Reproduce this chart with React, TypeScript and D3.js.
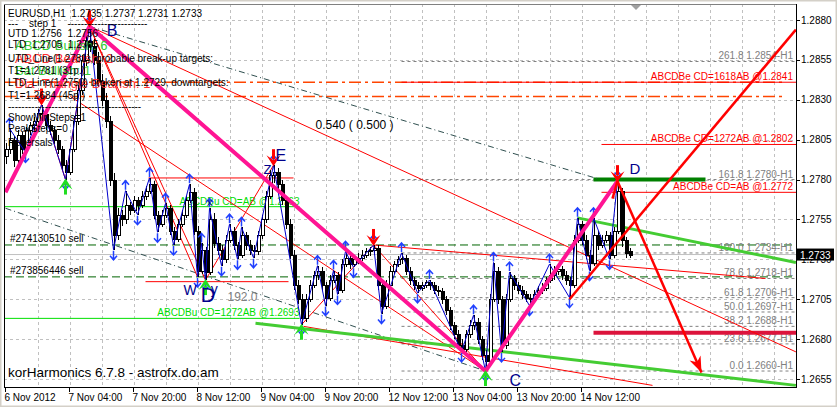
import * as d3 from "d3";

// H1 bars, [open, high, low, close]
const bars: [number, number, number, number][] = [
  [1.2795, 1.2803, 1.279, 1.2799], [1.2799, 1.2812, 1.2796, 1.2805], [1.2805, 1.2807, 1.2788, 1.2792], [1.2792, 1.2811, 1.279, 1.2808],
  [1.2808, 1.281, 1.2796, 1.2799], [1.2799, 1.2813, 1.2797, 1.2811], [1.2811, 1.2816, 1.2808, 1.2814], [1.2814, 1.2819, 1.281, 1.2817],
  [1.2817, 1.2824, 1.2815, 1.2822], [1.2822, 1.2827, 1.2818, 1.2821], [1.2821, 1.2823, 1.2811, 1.2814], [1.2814, 1.2817, 1.2808, 1.2811],
  [1.2811, 1.2813, 1.2802, 1.2805], [1.2805, 1.2808, 1.2796, 1.2799], [1.2799, 1.2801, 1.2786, 1.2789], [1.2789, 1.2792, 1.278, 1.2785],
  [1.2785, 1.2801, 1.2783, 1.2799], [1.2799, 1.282, 1.2797, 1.2817], [1.2817, 1.2839, 1.2814, 1.2836], [1.2836, 1.2858, 1.2833, 1.2855],
  [1.2855, 1.287, 1.2851, 1.2867], [1.2867, 1.2876, 1.286, 1.2864], [1.2864, 1.2868, 1.2852, 1.2855], [1.2855, 1.286, 1.2838, 1.2842],
  [1.2842, 1.2846, 1.2826, 1.283], [1.283, 1.2834, 1.2812, 1.2817], [1.2817, 1.282, 1.2776, 1.278], [1.278, 1.2784, 1.2736, 1.2745],
  [1.2745, 1.2762, 1.2742, 1.2758], [1.2758, 1.2761, 1.2751, 1.2755], [1.2755, 1.2773, 1.2752, 1.2764], [1.2764, 1.2766, 1.2758, 1.2761],
  [1.2761, 1.277, 1.2759, 1.2767], [1.2767, 1.2769, 1.2758, 1.2764], [1.2764, 1.2773, 1.2762, 1.277], [1.277, 1.2776, 1.2767, 1.2773],
  [1.2773, 1.2781, 1.2771, 1.2777], [1.2777, 1.2779, 1.2755, 1.2758], [1.2758, 1.276, 1.2747, 1.2752], [1.2752, 1.2761, 1.275, 1.2758],
  [1.2758, 1.2765, 1.2756, 1.2762], [1.2762, 1.2764, 1.2745, 1.2748], [1.2748, 1.275, 1.2739, 1.2743], [1.2743, 1.2755, 1.2741, 1.2752],
  [1.2752, 1.2761, 1.275, 1.2758], [1.2758, 1.277, 1.2756, 1.2767], [1.2767, 1.2777, 1.2765, 1.2772], [1.2772, 1.2775, 1.2745, 1.2748],
  [1.2748, 1.2751, 1.2719, 1.2723], [1.2723, 1.274, 1.2721, 1.2736], [1.2736, 1.2738, 1.2717, 1.2722], [1.2722, 1.2762, 1.272, 1.2755],
  [1.2755, 1.2759, 1.2737, 1.274], [1.274, 1.2744, 1.2733, 1.2736], [1.2736, 1.2739, 1.2726, 1.273], [1.273, 1.2745, 1.2728, 1.2742],
  [1.2742, 1.2752, 1.274, 1.2748], [1.2748, 1.275, 1.2736, 1.2739], [1.2739, 1.2741, 1.273, 1.2733], [1.2733, 1.275, 1.2731, 1.2745],
  [1.2745, 1.2747, 1.2736, 1.2739], [1.2739, 1.2742, 1.2733, 1.2736], [1.2736, 1.2739, 1.2731, 1.2735], [1.2735, 1.2748, 1.2733, 1.2745],
  [1.2745, 1.2758, 1.2743, 1.2755], [1.2755, 1.2773, 1.2753, 1.277], [1.277, 1.2786, 1.2768, 1.2783], [1.2783, 1.2789, 1.2778, 1.2785],
  [1.2785, 1.2787, 1.2774, 1.2777], [1.2777, 1.278, 1.2764, 1.2767], [1.2767, 1.277, 1.2749, 1.2752], [1.2752, 1.2755, 1.273, 1.2733],
  [1.2733, 1.2736, 1.2711, 1.2714], [1.2714, 1.2717, 1.2702, 1.2705], [1.2705, 1.2708, 1.2689, 1.2693], [1.2693, 1.2708, 1.2691, 1.2705],
  [1.2705, 1.2717, 1.2703, 1.2714], [1.2714, 1.2723, 1.2712, 1.272], [1.272, 1.2726, 1.2717, 1.2723], [1.2723, 1.2725, 1.2711, 1.2714],
  [1.2714, 1.2716, 1.2701, 1.2706], [1.2706, 1.272, 1.2704, 1.2717], [1.2717, 1.2723, 1.2715, 1.272], [1.272, 1.2722, 1.2708, 1.2711],
  [1.2711, 1.273, 1.2709, 1.2727], [1.2727, 1.2735, 1.2725, 1.2731], [1.2731, 1.2733, 1.2724, 1.2727], [1.2727, 1.2733, 1.2725, 1.273],
  [1.273, 1.2734, 1.2727, 1.2731], [1.2731, 1.2736, 1.2729, 1.2733], [1.2733, 1.2737, 1.2731, 1.2735], [1.2735, 1.2738, 1.2732, 1.2736],
  [1.2736, 1.2739, 1.2733, 1.2737], [1.2737, 1.2739, 1.2711, 1.2714], [1.2714, 1.2716, 1.2696, 1.2701], [1.2701, 1.2717, 1.2699, 1.2714],
  [1.2714, 1.2726, 1.2712, 1.2723], [1.2723, 1.2729, 1.2721, 1.2727], [1.2727, 1.2732, 1.2725, 1.273], [1.273, 1.2734, 1.2727, 1.2731],
  [1.2731, 1.2733, 1.272, 1.2723], [1.2723, 1.2725, 1.2714, 1.2717], [1.2717, 1.2719, 1.2711, 1.2714], [1.2714, 1.2716, 1.2709, 1.2712],
  [1.2712, 1.2716, 1.271, 1.2714], [1.2714, 1.2717, 1.2712, 1.2716], [1.2716, 1.2717, 1.2711, 1.2714], [1.2714, 1.2716, 1.2708, 1.2711],
  [1.2711, 1.2713, 1.2707, 1.271], [1.271, 1.2712, 1.2702, 1.2705], [1.2705, 1.2707, 1.2695, 1.2698], [1.2698, 1.27, 1.2686, 1.2689],
  [1.2689, 1.2691, 1.268, 1.2683], [1.2683, 1.2686, 1.2674, 1.2676], [1.2676, 1.268, 1.2672, 1.2674], [1.2674, 1.2686, 1.2672, 1.2683],
  [1.2683, 1.2692, 1.2681, 1.2689], [1.2689, 1.2695, 1.2686, 1.2691], [1.2691, 1.2693, 1.2677, 1.268], [1.268, 1.2682, 1.2667, 1.267],
  [1.267, 1.2673, 1.266, 1.2666], [1.2666, 1.2708, 1.2664, 1.2705], [1.2705, 1.2728, 1.2703, 1.2723], [1.2723, 1.2725, 1.2702, 1.2705],
  [1.2705, 1.2707, 1.2672, 1.2676], [1.2676, 1.2708, 1.2674, 1.2705], [1.2705, 1.2722, 1.2703, 1.2718], [1.2718, 1.272, 1.2711, 1.2714],
  [1.2714, 1.2716, 1.2708, 1.2711], [1.2711, 1.2713, 1.2705, 1.2708], [1.2708, 1.271, 1.2703, 1.2706], [1.2706, 1.2708, 1.2701, 1.2705],
  [1.2705, 1.2711, 1.2703, 1.2708], [1.2708, 1.2713, 1.2706, 1.2711], [1.2711, 1.2715, 1.2708, 1.2712], [1.2712, 1.2719, 1.271, 1.2717],
  [1.2717, 1.2727, 1.2715, 1.272], [1.272, 1.2726, 1.2717, 1.2723], [1.2723, 1.2726, 1.272, 1.2724], [1.2724, 1.2726, 1.2717, 1.272],
  [1.272, 1.2723, 1.2714, 1.2717], [1.2717, 1.2719, 1.2706, 1.2714], [1.2714, 1.2745, 1.2712, 1.2742], [1.2742, 1.2756, 1.274, 1.2752],
  [1.2752, 1.2754, 1.2739, 1.2742], [1.2742, 1.2745, 1.273, 1.2733], [1.2733, 1.2736, 1.2723, 1.2728], [1.2728, 1.2756, 1.2726, 1.2745],
  [1.2745, 1.2748, 1.2736, 1.2739], [1.2739, 1.2745, 1.2737, 1.2742], [1.2742, 1.2748, 1.274, 1.2745], [1.2745, 1.2747, 1.273, 1.2733],
  [1.2733, 1.275, 1.2731, 1.2748], [1.2748, 1.2779, 1.2746, 1.2773], [1.2773, 1.2775, 1.2738, 1.2742], [1.2742, 1.2744, 1.2731, 1.2734],
  [1.2735, 1.2737, 1.2731, 1.2733],
];

const timeTickBars = [0, 16, 32, 48, 64, 80, 96, 112, 128, 144];
const timeTickLabels = ["6 Nov 2012", "7 Nov 04:00", "7 Nov 20:00", "8 Nov 12:00", "9 Nov 04:00", "9 Nov 20:00", "12 Nov 12:00", "13 Nov 04:00", "13 Nov 20:00", "14 Nov 12:00"];
const priceTicks = [1.288, 1.2855, 1.283, 1.2805, 1.278, 1.2755, 1.273, 1.2705, 1.268, 1.2655];
const lastPrice = 1.2733;

// zigzag pivots [bar, price]
const zigzag = [
  [1, 1.2812], [5, 1.2797], [9, 1.2827], [15, 1.278], [21, 1.2876], [27, 1.2736], [30, 1.2773], [33, 1.2758], [36, 1.2781],
  [38, 1.2747], [40, 1.2765], [42, 1.2739], [46, 1.2777], [48, 1.2719], [49, 1.274], [50, 1.2717], [51, 1.2762], [54, 1.2726],
  [56, 1.2752], [58, 1.273], [59, 1.275], [62, 1.2731], [67, 1.2789], [74, 1.2689], [78, 1.2726], [80, 1.2701], [82, 1.2723],
  [83, 1.2708], [85, 1.2735], [87, 1.2725], [92, 1.2739], [94, 1.2696], [99, 1.2734], [103, 1.2709], [106, 1.2717], [114, 1.2672],
  [117, 1.2695], [120, 1.266], [122, 1.2728], [124, 1.2672], [126, 1.2722], [131, 1.2701], [136, 1.2727], [141, 1.2706],
  [143, 1.2756], [146, 1.2723], [147, 1.2756], [151, 1.273], [153, 1.2779],
];

// harmonic pattern legs
const pinkLegs = [[0, 1.2772], [21, 1.2876], [120, 1.266], [153, 1.2779]];
const redThin = [
  [[21, 1.2876], [197.6, 1.2672]],
  [[21, 1.2876], [50, 1.2717]],
  [[21, 1.2876], [48, 1.2719]],
  [[16.25, 1.2832], [120, 1.266]],
  [[74.5, 1.2688], [161.75, 1.2651]],
  [[92, 1.2739], [190, 1.2718]],
  [[74, 1.2689], [92, 1.2739]],
  [[92, 1.2739], [120, 1.266]],
  [[50, 1.2717], [67, 1.2789]],
  [[9, 1.2827], [15, 1.278], [21, 1.2876]],
  [[35.75, 1.2781], [72, 1.2781]],
  [[35, 1.2716], [70.75, 1.2716]],
];
const redThick = [
  [[141, 1.2705], [197.6, 1.2874]],
  [[151.75, 1.2768], [153, 1.2779]],
];
const targetArrow = [[153, 1.2779], [174, 1.2659]];
const darkDashed = [
  [[21, 1.2876], [148.75, 1.278]],
  [[0, 1.2762], [120, 1.266]],
];
const greenChannel = [
  [[62.5, 1.269], [197.6, 1.2651]],
  [[143, 1.2756], [197.6, 1.2728]],
];

const fibPct = ["261.8", "161.8", "100.0", "78.6", "61.8", "50.0", "38.2", "23.6", "0.0"];
const fibPrice = [1.2854, 1.278, 1.2734, 1.2718, 1.2706, 1.2697, 1.2688, 1.2677, 1.266];

const bearTargets = [
  { label: "ABCDBe CD=1618AB  @1.2841", price: 1.2841, from: 99 },
  { label: "ABCDBe CD=1272AB  @1.2802", price: 1.2802, from: 149 },
  { label: "ABCDBe CD=AB  @1.2772", price: 1.2772, from: 149 },
];
const bullTargets = [
  { label: "ABCDBu CD=AB  @1.2763", price: 1.2763 },
  { label: "ABCDBu CD=1272AB  @1.2693", price: 1.2693 },
];
const orders = [
  { label: "#274130510 sell", price: 1.2739 },
  { label: "#273856446 sell", price: 1.2719 },
];
const breakLevels = [1.2841, 1.2832];
const t1Level = 1.2684;
const dLevel = 1.278;

const redMarks = [[9, 1.2827], [21, 1.2876], [67, 1.2789], [92, 1.2739], [153, 1.2779]];
const greenMarks = [[15, 1.278], [50, 1.2717], [74, 1.2689], [120, 1.266]];

const infoLines = [
  "EURUSD,H1  1.2735 1.2737 1.2731 1.2733",
  "---    step 1    ------------------------",
  "UTD 1.2756  1.2756",
  "LTD  1.2705  1.2705",
  "UTD_Line(1.2781), probable break-up targets:",
  "T1=1.2781 (31p.)",
  "LTD_Line(1.2750) broken at 1.2729, downtargets:",
  "T1=1.2684 (45p.)",
  "----------------------------------------",
  "ShowMinSteps=1",
  "PeakSteps=0",
  "Reversals",
];
const infoBaselines = [17, 27, 37, 48, 62, 74, 86, 99, 110, 121, 132, 146];
const patternCounts = [
  { text: "ABCD Bullish: 6", color: "#33cc33" },
  { text: "ABCD Bearish: 2", color: "#ff3030" },
  { text: "Bat Bullish: 1", color: "#33cc33" },
  { text: "Dia_Triangle Bearish: 1", color: "#ff3030" },
];

const FONT = "'Liberation Sans', Arial, sans-serif";

export default function App() {
  const W = 837, H = 407;
  const left = 4, right = 796, top = 4, bottom = 387;
  const x = d3.scaleLinear().domain([0, 1]).range([5.5, 9.5]);
  const y = d3.scaleLinear().domain([1.2655, 1.288]).range([379, 20]);
  const xEnd = x.invert(right);
  const line = d3.line<number[]>().x((d) => x(d[0])).y((d) => y(d[1]));
  const gridX = d3.range(8, xEnd, 8);

  const [ax, ay] = [x(targetArrow[1][0]), y(targetArrow[1][1])];
  const ang = Math.atan2(ay - y(targetArrow[0][1]), ax - x(targetArrow[0][0]));
  const head = (len: number, wid: number) =>
    `M${ax},${ay} L${ax - len * Math.cos(ang) + wid * Math.sin(ang)},${ay - len * Math.sin(ang) - wid * Math.cos(ang)} L${ax - len * 0.7 * Math.cos(ang)},${ay - len * 0.7 * Math.sin(ang)} L${ax - len * Math.cos(ang) - wid * Math.sin(ang)},${ay - len * Math.sin(ang) + wid * Math.cos(ang)} Z`;

  return (
    <div style={{ position: "fixed", left: 0, top: 0 }}>
      <svg width={W} height={H} style={{ display: "block", fontFamily: FONT }}>
        <defs>
          <clipPath id="plot">
            <rect x={left} y={top} width={right - left} height={bottom - top} />
          </clipPath>
        </defs>
        <rect x={0} y={0} width={W} height={H} fill="#ffffff" />
        <rect x={0.5} y={0.5} width={W - 1} height={H - 1} fill="none" stroke="#d4d0c8" strokeWidth={2} />

        {/* grid */}
        <g stroke="#c0c0c0" strokeDasharray="3,3" shapeRendering="crispEdges">
          {gridX.map((b) => (
            <line key={b} x1={Math.round(x(b)) + 0.5} x2={Math.round(x(b)) + 0.5} y1={top} y2={bottom} />
          ))}
          {priceTicks.map((p) => (
            <line key={p} x1={left} x2={right} y1={Math.round(y(p)) + 0.5} y2={Math.round(y(p)) + 0.5} />
          ))}
        </g>

        <g clipPath="url(#plot)">
          {/* horizontal levels */}
          <line x1={left} x2={right} y1={y(lastPrice)} y2={y(lastPrice)} stroke="#c0c0c0" />
          {orders.map((o) => (
            <g key={o.label}>
              <line x1={left} x2={right} y1={y(o.price)} y2={y(o.price)} stroke="#006400" strokeDasharray="8,4" />
              <text x={10} y={y(o.price) - 3} fontSize={10} fill="#000">{o.label}</text>
            </g>
          ))}
          {fibPrice.map((p, i) => (
            <g key={p}>
              <line x1={x(99)} x2={right} y1={y(p)} y2={y(p)} stroke="#808080" strokeDasharray="3,3" />
              <text x={793} y={y(p) - 2} fontSize={10} fill="#808080" textAnchor="end">{`${fibPct[i]} ${p.toFixed(4)}-H1`}</text>
            </g>
          ))}
          {breakLevels.map((p) => (
            <line key={p} x1={left} x2={x(194.5)} y1={y(p)} y2={y(p)} stroke="#ff4500" strokeWidth={1.5} strokeDasharray="12,4,3,4" />
          ))}
          {bearTargets.map((t) => (
            <g key={t.label}>
              <line x1={x(t.from)} x2={right} y1={y(t.price)} y2={y(t.price)} stroke="#ff0000" />
              <text x={793} y={y(t.price) - 2} fontSize={10} fill="#ff0000" textAnchor="end">{t.label}</text>
            </g>
          ))}
          {bullTargets.map((t) => (
            <g key={t.label}>
              <line x1={left} x2={x(73.5)} y1={y(t.price)} y2={y(t.price)} stroke="#00e000" />
              <text x={x(73.5)} y={y(t.price) - 2} fontSize={10} fill="#00dd00" textAnchor="end">{t.label}</text>
            </g>
          ))}
          <line x1={x(147)} x2={right} y1={y(t1Level)} y2={y(t1Level)} stroke="#dc143c" strokeWidth={4} />
          <line x1={x(147)} x2={x(175)} y1={y(dLevel)} y2={y(dLevel)} stroke="#008000" strokeWidth={4} />

          {/* trend lines */}
          {darkDashed.map((s, i) => (
            <path key={i} d={line(s) ?? ""} fill="none" stroke="#2f4f4f" strokeDasharray="6,3,1,3" />
          ))}
          {redThin.map((s, i) => (
            <path key={i} d={line(s) ?? ""} fill="none" stroke="#ff0000" strokeWidth={1} />
          ))}
          {greenChannel.map((s, i) => (
            <path key={i} d={line(s) ?? ""} fill="none" stroke="#44cc33" strokeWidth={3} />
          ))}

          {/* candles */}
          <g shapeRendering="crispEdges">
            {bars.map(([o, h, l, c], i) => {
              const cx = Math.round(x(i)) + 0.5;
              const yt = Math.round(y(Math.max(o, c)));
              const yb = Math.round(y(Math.min(o, c)));
              return (
                <g key={i}>
                  <line x1={cx} x2={cx} y1={Math.round(y(h))} y2={Math.round(y(l))} stroke="#000" />
                  <rect x={cx - 1.5} y={yt + 0.5} width={3} height={Math.max(yb - yt, 1)} fill={c >= o ? "#fff" : "#000"} stroke="#000" />
                </g>
              );
            })}
          </g>

          {/* zigzag */}
          <path d={line(zigzag) ?? ""} fill="none" stroke="#0000cd" strokeWidth={1} />
          {zigzag.map(([b, p], i) => {
            const prev = zigzag[i - 1]?.[1] ?? zigzag[i + 1][1];
            const high = p > prev;
            const cx = x(b), cy = y(p);
            const s = high ? -1 : 1;
            return (
              <path key={i} d={`M${cx},${cy + s} L${cx},${cy + 10 * s} M${cx - 3.5},${cy + 6 * s} L${cx},${cy + 10 * s} L${cx + 3.5},${cy + 6 * s}`} fill="none" stroke="#2040ff" strokeWidth={1.5} />
            );
          })}

          {/* harmonic legs */}
          <path d={line(pinkLegs) ?? ""} fill="none" stroke="#ff1493" strokeWidth={4} strokeLinejoin="round" />
          {redThick.map((s, i) => (
            <path key={i} d={line(s) ?? ""} fill="none" stroke="#ff0000" strokeWidth={2.5} />
          ))}
          <path d={line(targetArrow) ?? ""} fill="none" stroke="#ff0000" strokeWidth={2.5} />
          <path d={head(16, 6)} fill="#ff0000" />

          {redMarks.map(([b, p], i) => {
            const cx = x(b), cy = y(p);
            return (
              <g key={i} fill="#ff0000">
                <rect x={cx - 1.5} y={cy - 16} width={3} height={10} />
                <path d={`M${cx - 7},${cy - 10} L${cx},${cy - 5} L${cx + 7},${cy - 10} L${cx},${cy + 1} Z`} />
              </g>
            );
          })}
          {greenMarks.map(([b, p], i) => {
            const cx = x(b), cy = y(p);
            return (
              <g key={i} fill="#22dd22">
                <rect x={cx - 1.5} y={cy + 6} width={3} height={9} />
                <path d={`M${cx - 7},${cy + 10} L${cx},${cy + 5} L${cx + 7},${cy + 10} L${cx},${cy - 1} Z`} />
              </g>
            );
          })}

          {/* point labels */}
          <g fill="#00008b">
            <text x={x(25.3)} y={y(1.2876) + 10} fontSize={16}>B</text>
            <text x={x(67.5)} y={y(1.2789) - 4} fontSize={16}>E</text>
            <text x={x(156)} y={y(1.2779) - 7} fontSize={15}>D</text>
            <text x={x(126)} y={386} fontSize={16}>C</text>
            <text x={x(44.5)} y={y(1.2717) + 15} fontSize={14}>W</text>
            <text x={x(48.8)} y={y(1.2717) + 22} fontSize={20}>D</text>
            <text x={x(51.3)} y={y(1.2717) + 14} fontSize={14}>y</text>
            <text x={x(50.3)} y={y(1.2762) - 2} fontSize={9}>X</text>
            <text x={x(64.5)} y={y(1.2785) + 2} fontSize={13}>Z</text>
          </g>
          <text x={x(55.5)} y={y(1.2717) + 21} fontSize={12} fill="#808080">192.0</text>
          <text x={x(77.5)} y={y(1.2815) + 5} fontSize={12} fill="#000">0.540 ( 0.500 )</text>

          {/* info panel */}
          {patternCounts.map((t, i) => (
            <text key={t.text} x={15} y={50 + i * 12.5} fontSize={13} fill={t.color}>{t.text}</text>
          ))}
          {infoLines.map((t, i) => (
            <text key={i} x={8} y={infoBaselines[i]} fontSize={10} fill="#000" style={{ whiteSpace: "pre" }}>{t}</text>
          ))}
          <text x={8} y={377} fontSize={13.5} fill="#000">korHarmonics 6.7.8 - astrofx.do.am</text>
        </g>

        <path d={`M631,${top + 1} L641,${top + 1} L636,${top + 6} Z`} fill="#a0a0a0" />

        {/* frame and axes */}
        <g shapeRendering="crispEdges">
          <line x1={left + 0.5} x2={left + 0.5} y1={top} y2={bottom} stroke="#000" />
          <line x1={left} x2={right} y1={top + 0.5} y2={top + 0.5} stroke="#808080" />
          <line x1={right + 0.5} x2={right + 0.5} y1={top} y2={bottom + 1} stroke="#000" />
          <line x1={left} x2={right + 1} y1={bottom + 0.5} y2={bottom + 0.5} stroke="#000" />
          {priceTicks.map((p) => (
            <line key={p} x1={right} x2={right + 4} y1={Math.round(y(p)) + 0.5} y2={Math.round(y(p)) + 0.5} stroke="#000" />
          ))}
          {timeTickBars.map((b) => (
            <line key={b} x1={Math.round(x(b)) - 0.5} x2={Math.round(x(b)) - 0.5} y1={bottom} y2={bottom + 5} stroke="#000" />
          ))}
        </g>
        {priceTicks.map((p) => (
          <text key={p} x={801} y={y(p) + 3.5} fontSize={10} fill="#000">{p.toFixed(4)}</text>
        ))}
        {timeTickBars.map((b, i) => (
          <text key={b} x={x(b) - 1} y={401} fontSize={10} fill="#000">{timeTickLabels[i]}</text>
        ))}
        <rect x={797} y={y(lastPrice) - 6} width={37} height={12} fill="#000" />
        <text x={800} y={y(lastPrice) + 4} fontSize={10} fill="#fff">{lastPrice.toFixed(4)}</text>
      </svg>
    </div>
  );
}
